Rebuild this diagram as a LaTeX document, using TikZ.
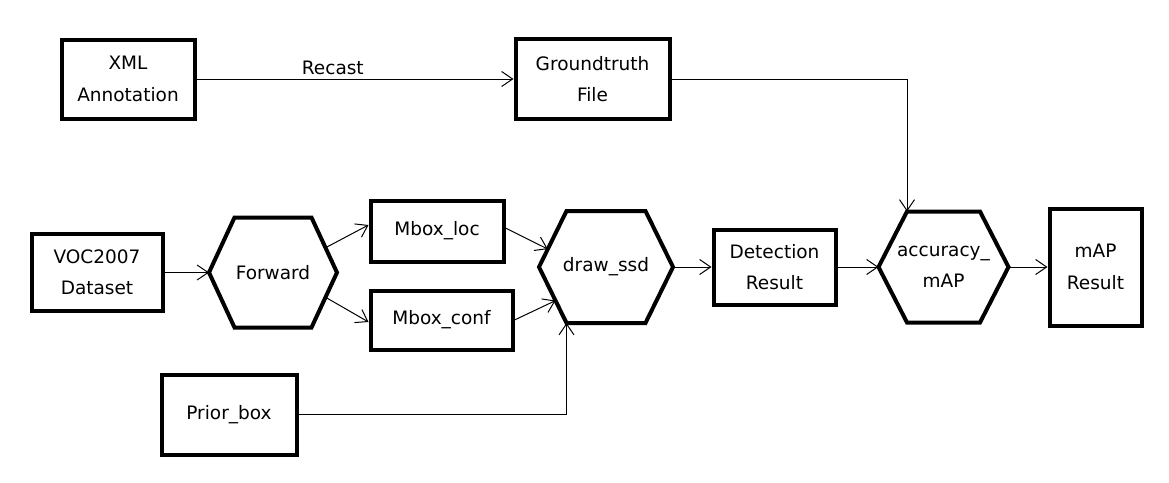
\documentclass[tikz,border=0pt]{standalone}
\usepackage{fontspec}
\setmainfont{DejaVu Sans}
\usetikzlibrary{calc,arrows.meta}
% hexagon: (name)(centre)[half width:half height:half top edge]{text}
\def\hexnode(#1)(#2)[#3:#4:#5]#6{%
\coordinate (#1-w) at ($(#2)+(-#3,0)$);
\coordinate (#1-nw) at ($(#2)+(-#5,-#4)$);
\coordinate (#1-ne) at ($(#2)+(#5,-#4)$);
\coordinate (#1-e) at ($(#2)+(#3,0)$);
\coordinate (#1-se) at ($(#2)+(#5,#4)$);
\coordinate (#1-sw) at ($(#2)+(-#5,#4)$);
\draw[hexline] (#1-w) -- (#1-nw) -- (#1-ne) -- (#1-e) -- (#1-se) -- (#1-sw) -- cycle;
\node[lbl] (#1) at (#2) {#6};}

\begin{document}
\begin{tikzpicture}[x=1pt,y=-1pt,
	lbl/.style={align=center,font=\fontsize{18.5}{31.5}\selectfont},
	box/.style={lbl,draw,line width=4pt,inner sep=0pt},
	hexline/.style={line width=4pt},
	conn/.style={line width=1pt,-{Straight Barb[length=11pt,width=15pt,line width=1pt]}}]
			%%%%% START %%%%%
			\useasboundingbox (0,0) rectangle (1169,482);
			
			\node[box,minimum width=133,minimum height=79] (xml) at (128, 79) {XML\\Annotation};
			\node[box,minimum width=154,minimum height=80] (gt) at (592.5, 79) {Groundtruth\\File};
			
			\node[box,minimum width=131,minimum height=77] (voc) at (97, 272.5) {VOC2007\\Dataset};
			\hexnode(fwd)(273, 272.5)[64:55:38.5]{Forward}
			\node[box,minimum width=133,minimum height=61] (loc) at (437, 231) {Mbox\_loc};
			\node[box,minimum width=142,minimum height=59] (conf) at (441.5, 320) {Mbox\_conf};
			\hexnode(ssd)(606, 267)[67:56:39.5]{draw\_ssd}
			\node[box,minimum width=122,minimum height=75] (det) at (774.5, 267) {Detection\\Result};
			\hexnode(acc)(943.5, 267)[65:55.5:36.5]{accuracy\_\\mAP}
			\node[box,minimum width=92,minimum height=117] (map) at (1095.5, 267) {mAP\\Result};
			
			\node[box,minimum width=135,minimum height=80] (prior) at (229, 414.5) {Prior\_box};
			
			\draw[conn] (xml) -- node[lbl,pos=0.43,above] (recast) {Recast} (gt);
			\draw[conn] (gt) -| (acc-nw);
			
			\draw[conn] (voc) -- (fwd-w);
			\draw[conn] ($(fwd-e)!0.45!(fwd-ne)$) -- ($(loc.west)+(0,-6)$);
			\draw[conn] ($(fwd-e)!0.45!(fwd-se)$) -- ($(conf.west)+(0,2)$);
			\draw[conn] ($(loc.east)+(0,-3)$) -- ($(ssd-w)!0.32!(ssd-nw)$);
			\draw[conn] (conf.east) -- ($(ssd-w)!0.6!(ssd-sw)$);
			\draw[conn] (prior) -| (ssd-sw);
			
			\draw[conn] (ssd-e) -- (det);
			\draw[conn] (det) -- (acc-w);
			\draw[conn] (acc-e) -- (map);
			%%%%% END %%%%%
\end{tikzpicture}
\end{document}
